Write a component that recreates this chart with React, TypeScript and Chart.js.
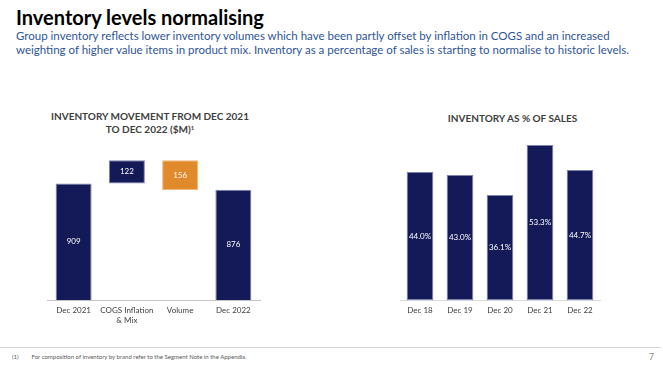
import React, { useEffect, useRef } from "react";
import { Chart, registerables } from "chart.js";

Chart.register(...registerables);

// ---- Data ----
const movementCategories: (string | string[])[] = ["Dec 2021", ["COGS Inflation", "& Mix"], "Volume", "Dec 2022"];
const movementValues = [909, 122, -156, 876];
const movementKinds = ["total", "delta", "delta", "total"];
const movementAxisMin = 300;
const movementAxisMax = 1100;

const salesCategories = ["Dec 18", "Dec 19", "Dec 20", "Dec 21", "Dec 22"];
const salesPercent = [44.0, 43.0, 36.1, 53.3, 44.7];
const salesAxisMax = 55;

const NAVY = "#141a58";
const ORANGE = "#e08a2b";
const FONT = "Lato";

function insideLabels(fmt: (i: number) => string) {
  return {
    id: "insideLabels",
    afterDatasetsDraw(chart: any) {
      const { ctx, chartArea } = chart;
      const meta = chart.getDatasetMeta(0);
      ctx.save();
      ctx.fillStyle = "#ffffff";
      ctx.font = `8px ${FONT}`;
      ctx.textAlign = "center";
      ctx.textBaseline = "middle";
      meta.data.forEach((el: any, i: number) => {
        const { x, y, base } = el.getProps(["x", "y", "base"], true);
        const top = Math.max(Math.min(y, base), chartArea.top);
        const bot = Math.min(Math.max(y, base), chartArea.bottom);
        ctx.fillText(fmt(i), x, (top + bot) / 2);
      });
      ctx.restore();
    },
  };
}

function buildFloating() {
  let running = 0;
  return movementValues.map((v, i) => {
    if (movementKinds[i] === "total") {
      running = v;
      return [0, v];
    }
    const start = running;
    running += v;
    return v >= 0 ? [start, running] : [running, start];
  });
}

function xScale(borderDash: number[], borderColor: string) {
  return {
    grid: { display: false, drawTicks: false },
    border: { display: true, color: borderColor, dash: borderDash, width: 1 },
    ticks: { color: "#404040", font: { family: FONT, size: 8 }, padding: 6, maxRotation: 0, autoSkip: false },
    afterFit(scale: any) {
      scale.height = 30;
    },
  };
}

function MovementChart() {
  const ref = useRef<HTMLCanvasElement>(null);
  useEffect(() => {
    const chart = new Chart(ref.current!, {
      type: "bar",
      data: {
        labels: movementCategories as any,
        datasets: [
          {
            data: buildFloating() as any,
            backgroundColor: movementValues.map((v) => (v < 0 ? ORANGE : NAVY)),
            borderColor: movementValues.map((v) => (v < 0 ? "#f0b77a" : "#7d82b0")),
            borderWidth: 1,
            borderSkipped: false,
            barPercentage: 0.676,
            categoryPercentage: 1,
          },
        ],
      },
      options: {
        responsive: false,
        animation: false,
        layout: { padding: { left: 17, right: 20, top: 7, bottom: 0 } },
        plugins: { legend: { display: false }, title: { display: false }, tooltip: { enabled: false } },
        scales: {
          x: xScale([1.5, 2], "#c4c4c4") as any,
          y: { display: false, min: movementAxisMin, max: movementAxisMax },
        },
      },
      plugins: [insideLabels((i) => String(Math.abs(movementValues[i])))],
    });
    return () => chart.destroy();
  }, []);
  return <canvas ref={ref} width={250} height={190} style={{ position: "absolute", left: 30, top: 140 }} />;
}

function SalesChart() {
  const ref = useRef<HTMLCanvasElement>(null);
  useEffect(() => {
    const chart = new Chart(ref.current!, {
      type: "bar",
      data: {
        labels: salesCategories,
        datasets: [
          {
            data: salesPercent,
            backgroundColor: NAVY,
            borderColor: "#7d82b0",
            borderWidth: 1,
            borderSkipped: false,
            barPercentage: 0.667,
            categoryPercentage: 1,
          },
        ],
      },
      options: {
        responsive: false,
        animation: false,
        layout: { padding: { left: 20, right: 20, top: 10, bottom: 0 } },
        plugins: { legend: { display: false }, title: { display: false }, tooltip: { enabled: false } },
        scales: {
          x: xScale([], "#d9d9d9") as any,
          y: { display: false, min: 0, max: salesAxisMax },
        },
      },
      plugins: [insideLabels((i) => salesPercent[i].toFixed(1) + "%")],
    });
    return () => chart.destroy();
  }, []);
  return <canvas ref={ref} width={240} height={200} style={{ position: "absolute", left: 380, top: 130 }} />;
}

export default function App() {
  const abs = (s: React.CSSProperties): React.CSSProperties => ({ position: "absolute", whiteSpace: "nowrap", ...s });
  return (
    <div
      style={{
        position: "fixed",
        left: 0,
        top: 0,
        width: 663,
        height: 373,
        background: "#ffffff",
        fontFamily: FONT,
        overflow: "hidden",
      }}
    >
      <div style={abs({ left: 16, top: 5, fontSize: 20, lineHeight: "24px", fontWeight: 700, color: "#000" })}>
        Inventory levels normalising
      </div>
      <div style={abs({ left: 16, top: 29, fontSize: 11.5, lineHeight: "14px", color: "#2f5597" })}>
        Group inventory reflects lower inventory volumes which have been partly offset by inflation in COGS and an increased
        <br />
        weighting of higher value items in product mix. Inventory as a percentage of sales is starting to normalise to historic levels.
      </div>

      <div
        style={abs({
          left: 30,
          top: 109.5,
          width: 240,
          textAlign: "center",
          fontSize: 10,
          lineHeight: "13.3px",
          fontWeight: 700,
          color: "#404040",
        })}
      >
        INVENTORY MOVEMENT FROM DEC 2021
        <br />
        TO DEC 2022 ($M)<sup style={{ fontSize: 6, verticalAlign: 3, lineHeight: 0 }}>1</sup>
      </div>
      <div
        style={abs({
          left: 412,
          top: 112.3,
          width: 201,
          textAlign: "center",
          fontSize: 10,
          lineHeight: "13px",
          fontWeight: 700,
          color: "#404040",
        })}
      >
        INVENTORY AS % OF SALES
      </div>

      <MovementChart />
      <SalesChart />

      <div style={{ position: "absolute", left: 0, top: 347, width: 661, height: 1, background: "#d6d6d6" }} />
      <div style={abs({ left: 12, top: 353, fontSize: 6, lineHeight: "8px", color: "#595959" })}>(1)</div>
      <div style={abs({ left: 31.5, top: 353, fontSize: 6, lineHeight: "8px", color: "#595959" })}>
        For composition of inventory by brand refer to the Segment Note in the Appendix.
      </div>
      <div style={abs({ left: 649, top: 352, fontSize: 8.5, lineHeight: "11px", color: "#7f7f7f" })}>7</div>
    </div>
  );
}
